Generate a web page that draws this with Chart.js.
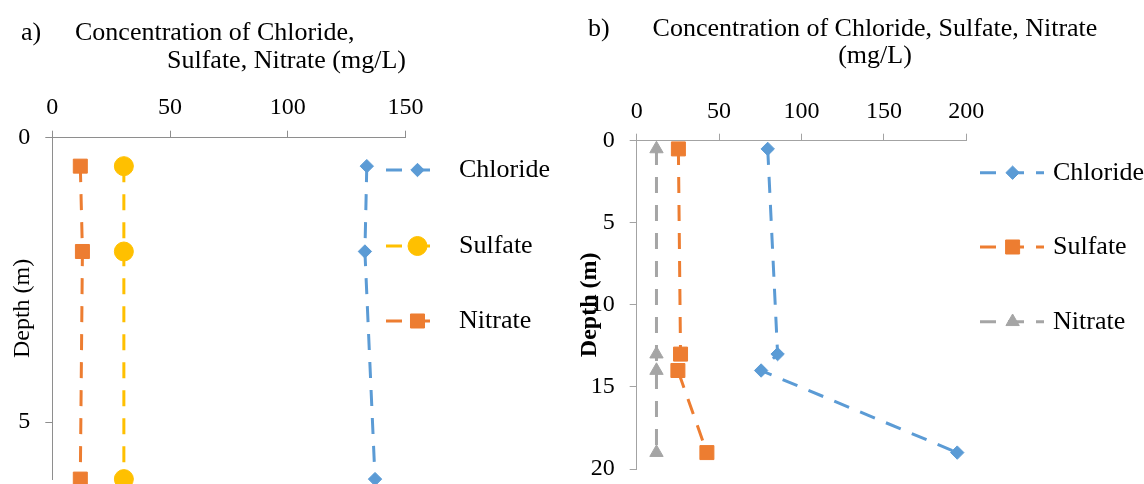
<!DOCTYPE html>
<html>
<head>
<meta charset="utf-8">
<script src="https://cdn.jsdelivr.net/npm/chart.js"></script>
<style>
  html, body { margin: 0; padding: 0; background: #fff; overflow: hidden; }
  body { width: 1144px; height: 484px; position: relative; font-family: 'Liberation Serif', 'Times New Roman', serif; }
  .panel { position: absolute; top: 0; width: 572px; }
  .txt { position: absolute; font-size: 26px; line-height: 1; white-space: nowrap; color: #000; }
</style>
</head>
<body>
<!-- panel a is a little taller than the window so its bottom row of markers is cut like the original -->
<div class="panel" style="left:0; height:490px"><canvas id="chartA" width="572" height="490"></canvas></div>
<div class="panel" style="left:572px; height:484px"><canvas id="chartB" width="572" height="484"></canvas></div>

<div class="txt" style="left:21px; top:19px">a)</div>
<div class="txt" style="left:75px; top:19px">Concentration of Chloride,</div>
<div class="txt" style="left:167px; top:47px">Sulfate, Nitrate (mg/L)</div>

<div class="txt" style="left:588px; top:15px">b)</div>
<div class="txt" style="left:652px; top:15px; width:446px; text-align:center">Concentration of Chloride, Sulfate, Nitrate</div>
<div class="txt" style="left:652px; top:42px; width:446px; text-align:center">(mg/L)</div>

<script>
// panel a) data
const depthA = [0.5, 2, 6];
const chlorideA = [133.6, 132.8, 137.1];
const sulfateA = [30.4, 30.4, 30.4];
const nitrateA = [11.9, 12.8, 11.9];
const xTicksA = [0, 50, 100, 150];
const yTicksA = [0, 5];
const yMaxA = 6;

// panel b) data
const depthB = [0.5, 13, 14, 19];
const chlorideB = [79.5, 85.5, 75.5, 194.5];
const sulfateB = [25.3, 26.6, 25.0, 42.6];
const nitrateB = [12, 12, 12, 12];
const xTicksB = [0, 50, 100, 150, 200];
const yTicksB = [0, 5, 10, 15, 20];
const yMaxB = 20;

const BLUE = '#5B9BD5', ORANGE = '#ED7D31', YELLOW = '#FFC000', GREY = '#A5A5A5';

Chart.defaults.font.family = "'Liberation Serif', 'Times New Roman', serif";
Chart.defaults.color = '#000';

function pts(xs, ys) {
  return xs.map((v, i) => ({ x: v, y: ys[i] }));
}

function series(label, xs, ys, color, style, r) {
  return {
    label: label,
    data: pts(xs, ys),
    showLine: true,
    borderColor: color,
    backgroundColor: color,
    borderWidth: 3,
    borderDash: [16, 12],
    pointStyle: style,
    pointRadius: r,
    pointHoverRadius: r,
    pointBackgroundColor: color,
    pointBorderColor: color,
    pointBorderWidth: 1,
    clip: false
  };
}

// legend drawn beside the plot: dashed line, marker, label
const sideLegend = {
  id: 'sideLegend',
  afterDraw(chart, args, opts) {
    const ctx = chart.ctx;
    chart.data.datasets.forEach((ds, i) => {
      const y = opts.rows[i];
      ctx.save();
      ctx.strokeStyle = ds.borderColor;
      ctx.lineWidth = ds.borderWidth;
      ctx.setLineDash(ds.borderDash);
      ctx.beginPath();
      ctx.moveTo(opts.x0, y);
      ctx.lineTo(opts.x1, y);
      ctx.stroke();
      ctx.setLineDash([]);
      ctx.fillStyle = ds.pointBackgroundColor;
      ctx.strokeStyle = ds.pointBorderColor;
      ctx.lineWidth = 1;
      Chart.helpers.drawPoint(ctx, { pointStyle: ds.pointStyle, radius: ds.pointRadius, rotation: 0, borderWidth: 1 }, opts.xm, y);
      ctx.fillStyle = '#000';
      ctx.font = opts.font;
      ctx.textBaseline = 'middle';
      ctx.textAlign = 'left';
      ctx.fillText(ds.label, opts.tx, y);
      ctx.restore();
    });
  }
};

function axes(xt, yt, yMax, axisColor, xh, yw, xPad, titleBold, titlePad) {
  return {
    x: {
      type: 'linear',
      position: 'top',
      min: xt[0], max: xt[xt.length - 1],
      afterFit: (s) => { s.height = xh; },
      afterBuildTicks: (s) => { s.ticks = xt.map(v => ({ value: v })); },
      ticks: { font: { size: 24 }, padding: xPad, maxRotation: 0 },
      grid: { drawOnChartArea: false, drawTicks: true, tickLength: 7, color: axisColor },
      border: { display: true, color: axisColor, width: 1 }
    },
    y: {
      type: 'linear',
      reverse: true,
      min: yt[0], max: yMax,
      afterFit: (s) => { s.width = yw; s.paddingTop = 0; s.paddingBottom = 0; },
      afterBuildTicks: (s) => { s.ticks = yt.map(v => ({ value: v })); },
      ticks: { font: { size: 24 }, padding: 15 },
      grid: { drawOnChartArea: false, drawTicks: true, tickLength: 7, color: axisColor },
      border: { display: true, color: axisColor, width: 1 },
      title: {
        display: true,
        text: 'Depth (m)',
        font: { size: 24, weight: titleBold ? 'bold' : 'normal' },
        padding: { top: titlePad, bottom: 0 }
      }
    }
  };
}

new Chart(document.getElementById('chartA'), {
  type: 'scatter',
  data: {
    datasets: [
      series('Chloride', chlorideA, depthA, BLUE, 'rectRot', 6.7),
      series('Sulfate', sulfateA, depthA, YELLOW, 'circle', 9.5),
      series('Nitrate', nitrateA, depthA, ORANGE, 'rect', 9.9)
    ]
  },
  options: {
    responsive: false,
    animation: false,
    layout: { padding: { left: 0, top: 0, right: 166.6, bottom: 0 } },
    scales: axes(xTicksA, yTicksA, yMaxA, '#8e8e8e', 137.7, 52.3, 9, false, 8),
    plugins: {
      legend: { display: false },
      tooltip: { enabled: false },
      sideLegend: { x0: 386, x1: 441, xm: 417.5, tx: 459, rows: [170, 246, 321], font: "26px 'Liberation Serif', serif" }
    }
  },
  plugins: [sideLegend]
});

new Chart(document.getElementById('chartB'), {
  type: 'scatter',
  data: {
    datasets: [
      series('Chloride', chlorideB, depthB, BLUE, 'rectRot', 6.7),
      series('Sulfate', sulfateB, depthB, ORANGE, 'rect', 9.9),
      series('Nitrate', nitrateB, depthB, GREY, 'triangle', 7.7)
    ]
  },
  options: {
    responsive: false,
    animation: false,
    layout: { padding: { left: 0, top: 0, right: 177.7, bottom: 15 } },
    scales: axes(xTicksB, yTicksB, yMaxB, '#a3a3a3', 140.7, 64.7, 8, true, 3),
    plugins: {
      legend: { display: false },
      tooltip: { enabled: false },
      sideLegend: { x0: 408, x1: 472, xm: 440.6, tx: 481, rows: [172.7, 247, 321.7], font: "26px 'Liberation Serif', serif" }
    }
  },
  plugins: [sideLegend]
});
</script>
</body>
</html>
